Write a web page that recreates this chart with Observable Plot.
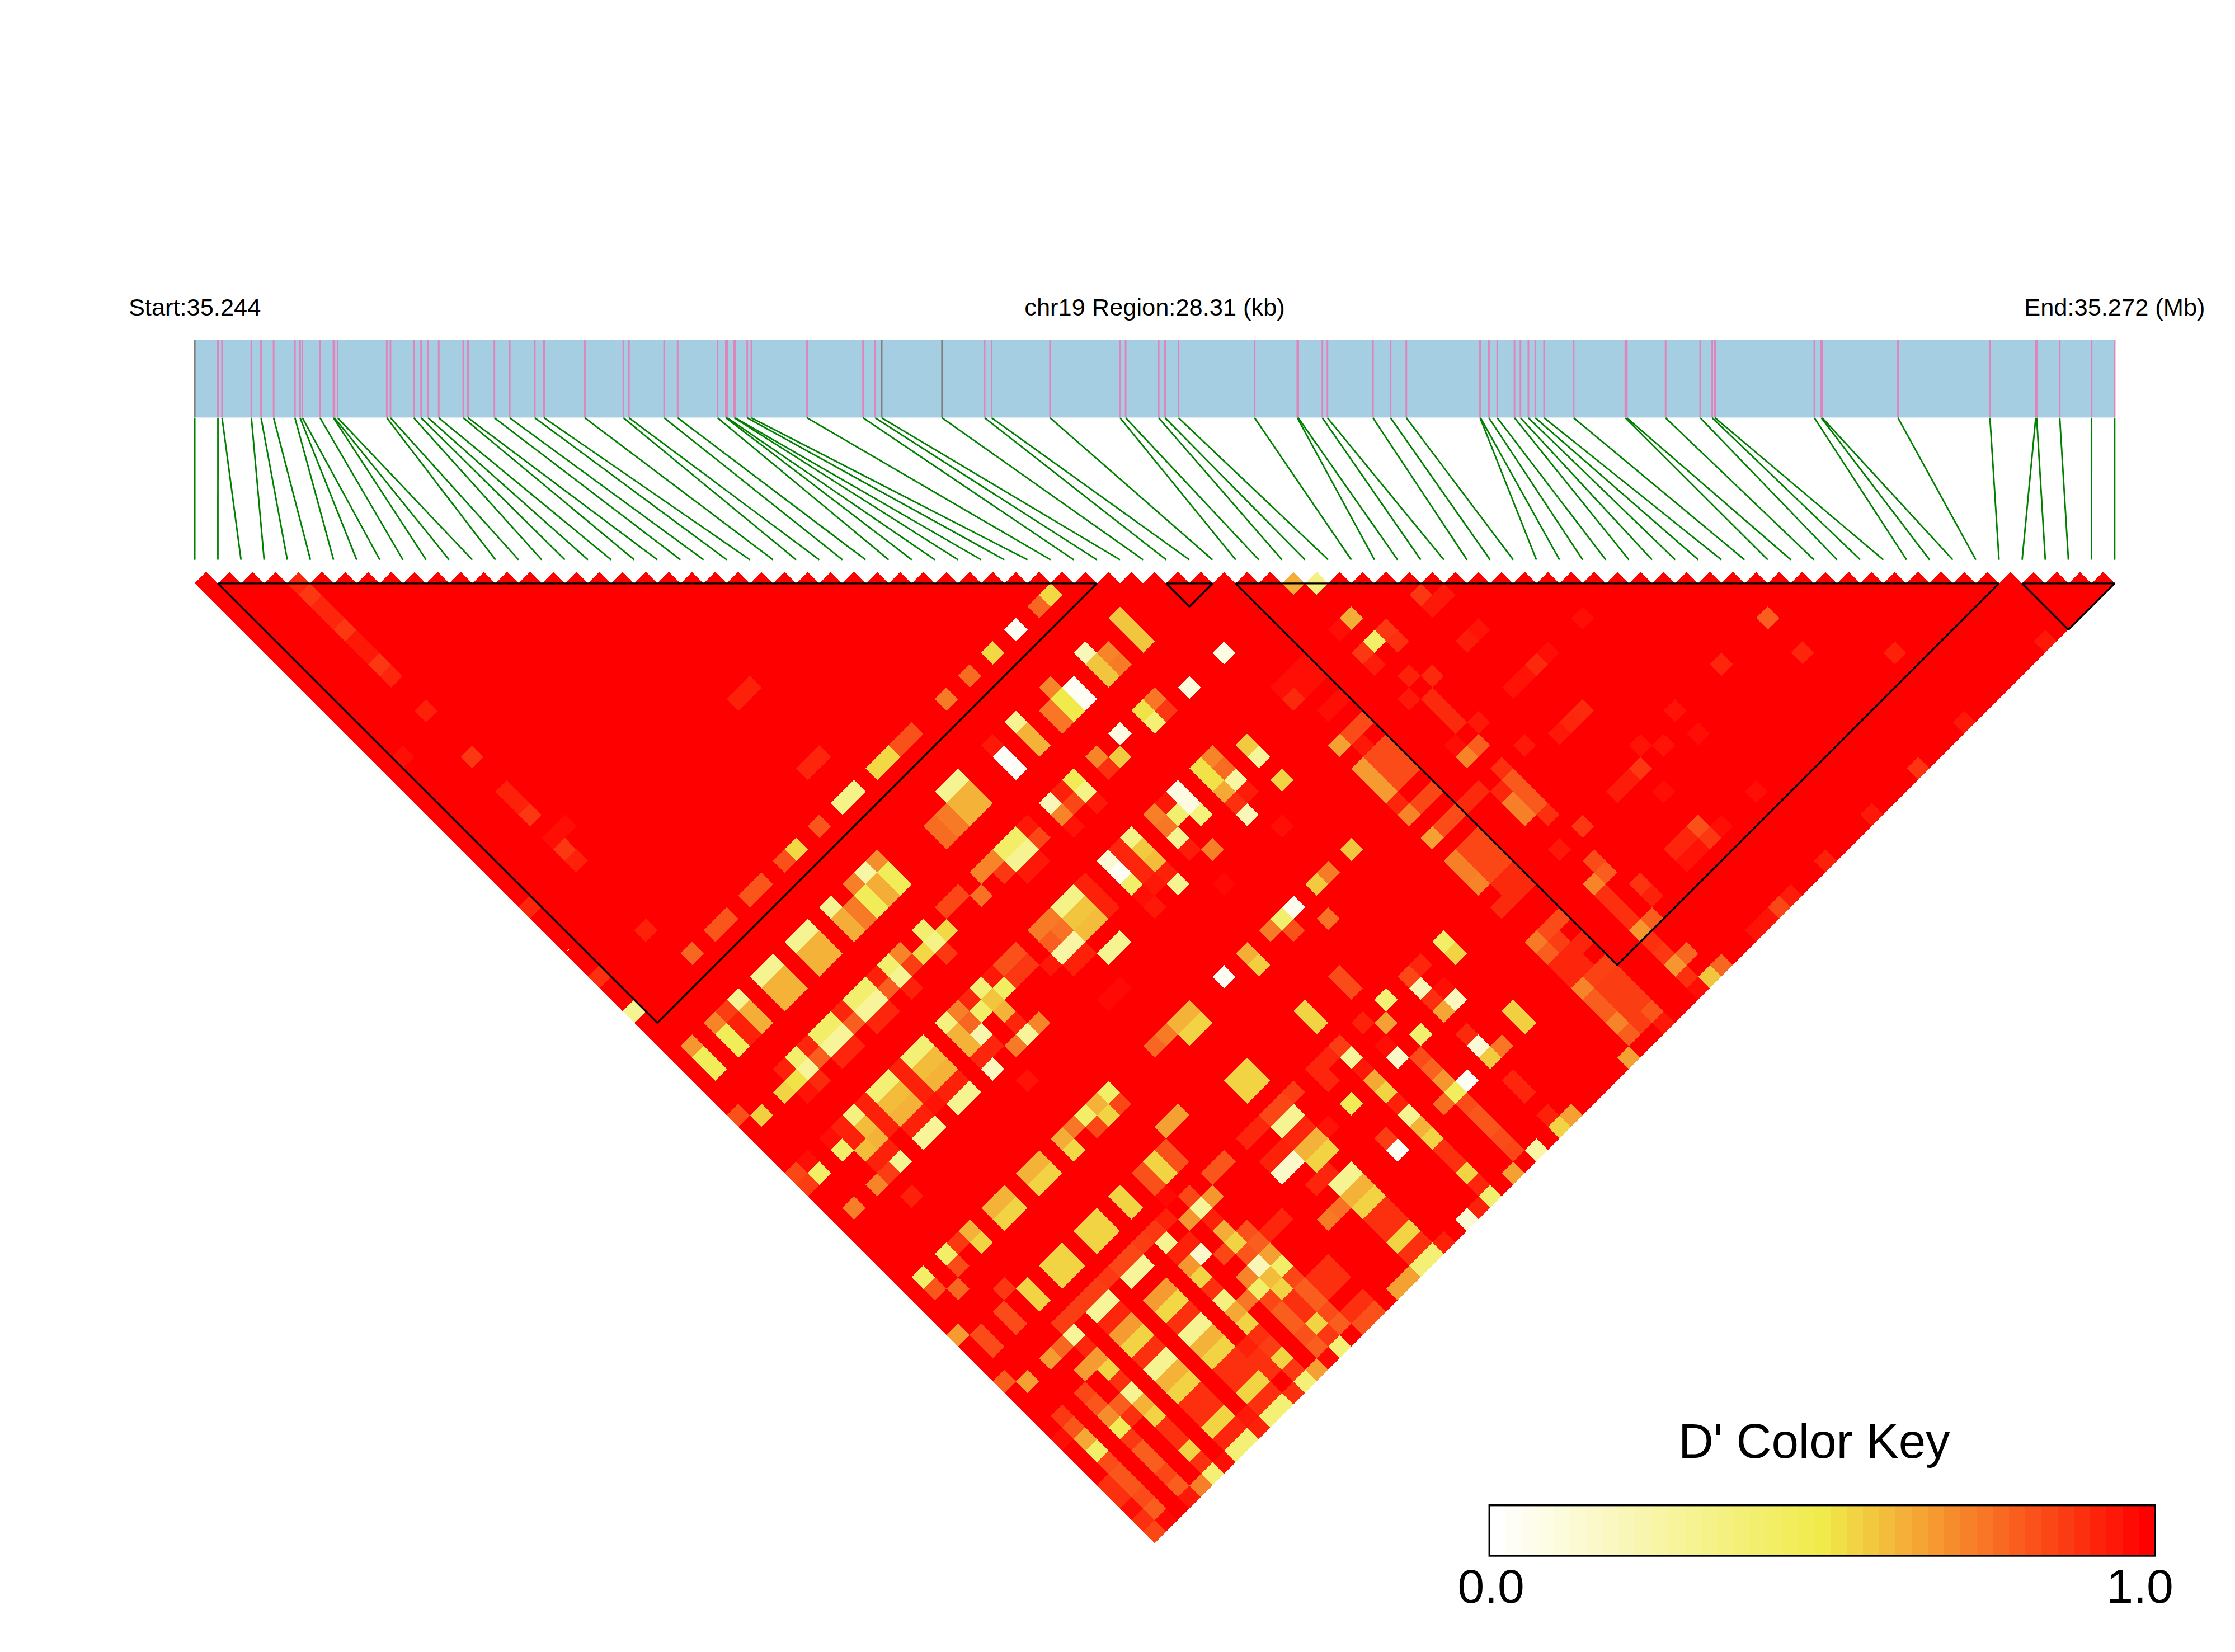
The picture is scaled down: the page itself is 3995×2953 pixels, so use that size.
<!DOCTYPE html>
<html>
<head>
<meta charset="utf-8">
<script src="https://cdn.jsdelivr.net/npm/d3@7"></script>
<script src="https://cdn.jsdelivr.net/npm/@observablehq/plot@0.6"></script>
<style>
html,body{margin:0;padding:0;background:#fff}
#chart{position:relative;width:3995px;height:2953px;background:#fff}
#chart svg{position:absolute;left:0;top:0;background:transparent;max-width:none}
</style>
</head>
<body>
<div id="chart"></div>
<script>
// SNP positions in kb from the region start
const snpKb = [0,0.342,0.403,0.835,0.978,1.163,1.477,1.553,1.587,1.847,2.045,2.059,2.107,2.832,2.886,3.229,3.338,3.441,3.598,3.960,4.029,4.418,4.644,5.014,5.151,5.752,6.321,6.402,6.922,7.121,7.709,7.832,7.853,7.955,7.969,8.147,8.208,9.029,9.855,10.033,10.129,11.019,11.647,11.750,12.612,13.645,13.727,14.213,14.308,14.506,15.628,16.258,16.271,16.627,16.702,17.373,17.633,17.865,18.953,18.959,19.083,19.206,19.460,19.548,19.665,19.767,19.897,20.332,21.095,21.116,21.688,22.199,22.376,22.417,23.882,23.984,23.998,25.115,26.471,27.146,27.160,27.500,27.970,28.310];
const greySnps = [0, 40, 41];
const regionKb = 28.31;
const headerLabels = ["Start:35.244", "chr19 Region:28.31 (kb)", "End:35.272 (Mb)"];
// LD blocks as [first SNP, last SNP]
const blocks = [[1,39],[42,44],[45,78],[79,83]];
// Pairs with D' below 1, as [first + second SNP index, second - first SNP index, D']; every other pair is 1
const weakPairs = [
[9,1,.92],[10,2,.88],[11,3,.92],[12,4,.92],[13,5,.88],[14,6,.95],[15,7,.95],[16,8,.88],[17,9,.92],[20,12,.93],[18,16,.97],[24,16,.88],[27,19,.93],[28,20,.93],[29,21,.88],[32,22,.97],[31,23,.97],[32,24,.88],[33,25,.93],[29,29,.92],[35,35,.9],[38,38,.3],[39,31,.93],
[74,2,.54],[73,3,.78],[71,5,.03],[69,7,.54],[67,9,.77],[65,11,.74],[48,10,.93],[47,11,.93],[62,14,.83],[61,15,.83],[60,16,.54],[59,17,.54],[54,16,.92],[53,17,.92],[57,19,.33],[56,20,.33],[54,22,.82],[52,24,.54],[51,25,.83],[49,27,.82],[48,28,.82],[46,30,.82],[45,31,.82],[43,33,.78],
[66,18,.3],[65,19,.3],[67,19,.62],[68,20,.62],[66,20,.62],[67,21,.62],[65,21,.74],[66,22,.74],[64,22,.77],[65,23,.77],[71,13,.3],[72,14,.62],[73,15,.62],[69,15,.95],[70,16,.02],[71,17,.02],
[77,7,.2],[79,7,.72],[78,8,.58],[79,9,.58],[74,10,.72],[76,10,.03],[77,11,.03],[75,11,.5],[76,12,.5],[74,12,.75],[75,13,.75],[80,14,.08],[78,16,.72],[80,16,.57],[79,17,.9],
[76,18,.47],[77,19,.33],[75,19,.93],[76,20,.85],[78,20,.95],[74,20,.2],[75,21,.72],[76,22,.96],[72,22,.95],[73,23,.85],[71,23,.42],[70,24,.42],[72,24,.3],[71,25,.3],[69,25,.72],[68,26,.72],[70,26,.88],[73,25,.95],[72,26,.95],[66,28,.85],[65,29,.85],[68,28,.76],
[59,25,.7],[58,26,.25],[60,26,.46],[61,27,.46],[59,27,.63],[60,28,.63],[57,27,.73],[58,28,.46],[59,29,.46],[57,29,.74],[58,30,.74],[55,29,.3],[56,30,.63],[57,31,.63],[53,31,.3],[52,32,.3],[54,32,.62],[55,33,.62],[53,33,.62],[54,34,.62],
[76,28,.33],[75,29,.33],[77,29,.58],[76,30,.58],[78,30,.6],[77,31,.6],[77,27,.93],[78,28,.93],[79,29,.93],[74,30,.74],[73,31,.74],[75,31,.76],[74,32,.8],[76,32,.25],[75,33,.25],[79,25,.12],[80,26,.03],[71,33,.8],[63,31,.4],[65,31,.54],[64,32,.33],[63,33,.54],[61,33,.72],[65,33,.88],
[95,1,.63],[97,1,.35],[106,2,.88],[108,2,.95],[107,3,.95],[120,4,.97],[100,4,.63],[99,5,.97],[103,5,.88],[104,6,.9],[102,6,.42],[101,7,.88],[102,8,.94],[111,5,.96],[110,6,.94],[117,7,.97],[116,8,.91],[115,9,.96],[114,10,.96],[105,9,.93],[107,9,.91],[105,11,.95],[107,11,.91],[108,12,.91],[109,13,.91],[111,13,.95],[109,15,.97],[111,15,.8],[110,16,.72],[115,15,.95],
[96,8,.97],[95,9,.97],[94,10,.97],[97,9,.97],[96,10,.97],[95,11,.91],[99,11,.97],[98,12,.97],[120,12,.91],[119,13,.92],[118,14,.95],[128,12,.96],[125,15,.96],[127,15,.96],[125,17,.88],[124,18,.94],[123,19,.94],[127,19,.97],
[83,11,.75],[84,12,.88],[82,12,.52],[83,13,.38],[86,10,.1],[89,7,.08],[80,4,.58],[81,5,.58],[82,6,.58],[80,8,.74],
[101,13,.84],[100,14,.84],[99,15,.66],[101,15,.95],[103,15,.84],[104,16,.84],[105,17,.84],[102,16,.84],[103,17,.84],[104,18,.84],[101,17,.67],[102,18,.67],[103,19,.67],[104,20,.92],[105,21,.72],[107,19,.85],[106,20,.85],[109,21,.84],[108,22,.84],[107,23,.66],[111,19,.91],[110,20,.91],[113,17,.9],[113,19,.92],[114,18,.81],[115,19,.81],[116,20,.81],[114,20,.73],[115,21,.73],[117,21,.9],[120,22,.88],
[111,23,.85],[112,24,.85],[113,25,.85],[110,24,.85],[111,25,.85],[112,26,.85],[109,25,.73],[110,26,.73],[111,27,.72],[114,26,.91],[113,27,.91],[115,27,.91],[114,28,.91],[113,29,.91],[118,24,.95],[121,25,.84],[122,26,.8],[121,27,.72],[122,28,.9],[123,29,.9],[124,30,.9],[125,27,.89],[126,28,.93],[126,30,.8],[125,31,.68],[126,32,.9],[128,24,.92],[118,30,.84],[117,31,.84],
[88,16,.72],[89,17,.77],[87,17,.52],[88,18,.52],[90,18,.25],[89,19,.64],[91,19,.94],[90,20,.9],[91,21,.2],[91,15,.57],[92,16,.28],[94,18,.55],[85,19,.08],[86,20,.08],[84,20,.95],[83,21,.73],[85,21,.4],[87,21,.36],[84,22,.75],[85,23,.3],[86,24,.94],[88,24,.73],[94,22,.97],[81,23,.33],[82,24,.57],[83,25,.6],[80,24,.92],[81,25,.92],[82,26,.92],[84,26,.93],[81,27,.42],[85,27,.3],[83,27,.95],[82,28,.97],[83,29,.95],[89,27,.98],[100,24,.58],[98,26,.74],[97,27,.57],[98,30,.76],[95,29,.05],[94,30,.4],[93,31,.74],[95,31,.83],[108,32,.42],[109,33,.55],[91,33,.63],[80,32,.3],
[136,4,.8],[139,7,.92],[132,8,.92],[147,7,.93],[130,14,.97],[135,19,.97],[130,22,.83],[132,22,.97],[131,23,.88],[129,23,.92],[128,24,.92],[130,24,.96],[129,25,.96],[160,6,.95],[153,13,.95],[149,17,.89],[145,21,.95],[141,25,.93],[138,28,.94],[137,29,.85],[136,30,.96],[135,31,.96],[132,34,.78],[131,35,.58],[130,36,.97],[129,35,.9],[128,34,.68],[129,33,.78],[127,33,.88],[126,38,.82],[127,39,.95],
[50,34,.3],[49,35,.3],[51,35,.62],[52,36,.62],[50,36,.62],[51,37,.62],[47,37,.3],[48,38,.63],[49,39,.63],[46,38,.87],[45,39,.72],[47,39,.93],[48,40,.93],[46,40,.46],[47,41,.46],[43,41,.68],[44,42,.46],[45,43,.46],
[60,34,.4],[62,34,.87],[61,35,.3],[58,36,.4],[57,37,.4],[59,37,.28],[58,38,.28],[60,36,.8],[59,35,.93],[62,36,.93],[60,38,.92],[59,39,.92],[57,39,.8],[56,38,.92],[55,39,.42],[54,40,.42],[56,40,.28],[55,41,.28],[53,41,.92],[54,42,.8],[52,42,.4],[53,43,.28],[51,43,.93],[54,44,.91],[52,44,.52],[51,45,.55],[53,45,.96],[57,41,.92],[56,42,.92],[47,47,.83],[49,47,.56],
[63,41,.38],[62,42,.38],[64,42,.6],[63,43,.6],[65,43,.62],[64,44,.62],[61,43,.93],[62,44,.93],[63,45,.93],[64,46,.96],[66,44,.93],[65,45,.93],[67,45,.3],[66,46,.3],
[66,38,.73],[65,39,.35],[67,39,.78],[66,40,.62],[68,40,.22],[67,41,.62],[68,38,.42],[70,36,.43],[68,36,.38],[69,37,.58],[70,38,.62],[71,39,.92],[73,39,.72],[72,40,.28],[71,41,.74],[69,41,.92],[68,42,.92],[69,43,.18],[67,37,.92],[70,34,.83],[71,33,.83],[72,34,.88],[71,35,.88],[69,35,.95],[74,34,.95],[76,34,.93],[77,33,.93],[79,33,.3],[80,36,.98],[79,37,.98],
[60,44,.38],[59,45,.38],[61,45,.6],[60,46,.6],[62,46,.62],[61,47,.62],[58,46,.93],[59,47,.93],[60,48,.93],[63,47,.93],[62,48,.93],[64,48,.28],[63,49,.28],[57,47,.35],[58,48,.6],[59,49,.62],[58,50,.6],[56,50,.42],[56,48,.93],[55,49,.97],[57,49,.93],[59,51,.93],[60,50,.93],[61,51,.3],[60,52,.87],[59,53,.72],[62,54,.93],[57,55,.73],[53,51,.97],[52,52,.85],[54,52,.42],[53,53,.87],[72,44,.96],
[79,45,.42],[78,46,.62],[80,46,.85],[77,47,.42],[79,47,.55],[76,48,.75],[78,48,.85],[75,49,.63],[76,50,.54],[73,51,.62],[72,52,.62],[74,52,.55],[73,53,.55],[70,54,.62],[69,55,.62],[71,55,.55],[70,56,.55],[80,54,.55],[81,55,.55],[78,56,.55],[79,57,.55],[77,57,.55],[78,58,.55],[75,59,.55],[76,60,.55],[74,60,.55],[75,61,.55],
[83,41,.78],[84,40,.74],[86,38,.62],[85,39,.62],[87,39,.55],[86,40,.55],[84,48,.66],[83,52,.83],[82,52,.83],[83,53,.83],[83,51,.55],[84,52,.55],[84,50,.85],[84,56,.93],[83,57,.88],[84,58,.3],[82,58,.87],[81,59,.85],[80,60,.85],[82,60,.28],[81,61,.28],[79,61,.88],[78,62,.87],[67,57,.62],[68,58,.55],[66,58,.88],[65,59,.42],[66,60,.84],[63,61,.42],[64,62,.82],[66,62,.78],
[70,62,.88],[72,62,.55],[73,63,.55],[70,64,.84],[71,65,.84],[66,66,.67],[68,66,.84],[69,67,.84],[77,63,.87],[76,64,.87],[75,65,.87],[79,63,.28],[78,64,.28],[76,66,.28],[75,67,.78],[74,68,.67],[77,67,.92],[80,64,.92],[79,65,.92],
[84,62,.67],[83,63,.67],[85,63,.54],[84,64,.54],[81,65,.67],[80,66,.67],[82,66,.55],[81,67,.55],[86,64,.9],[85,65,.9],[83,67,.9],[82,68,.9],[84,68,.3],[83,69,.3],[85,69,.62],[84,70,.62],[86,70,.55],[85,71,.55],[87,65,.3],[86,66,.3],[88,66,.62],[87,67,.62],[89,67,.55],[88,68,.55],[90,68,.9],[91,69,.9],[89,69,.9],[90,70,.9],[92,70,.55],[91,71,.55],[93,71,.9],[92,72,.9],[94,72,.38],[93,73,.38],[92,74,.93],[91,73,.95],[91,75,.38],[90,76,.38],[89,77,.97],[88,78,.38],[87,79,.73],[89,73,.55],[88,74,.55],[87,71,.9],[88,72,.9],[86,72,.9],[87,73,.9],[90,74,.92],[89,75,.92],
[78,68,.67],[77,69,.67],[79,69,.55],[80,70,.9],[81,71,.3],[82,72,.62],[83,73,.55],[77,71,.85],[78,72,.82],[79,73,.7],[80,74,.47],[81,73,.9],[80,72,.8],[84,74,.9],[85,75,.9],[86,76,.55],[87,77,.9],[82,76,.8],[83,77,.8],[84,78,.85],[85,79,.8],[81,75,.88],[75,73,.88],[76,74,.82],[77,75,.64],[78,76,.42],[79,77,.84],[80,78,.82],[81,79,.82],[79,79,.9],[80,80,.9],[82,80,.84],[83,81,.8],[82,82,.9],[84,82,.98],[83,83,.85],[81,81,.97],[86,80,.95],[75,75,.97],[70,70,.8],[72,70,.66],
[84,54,.98],[85,59,.93],[87,59,.14],[86,58,.93],[86,60,.68],[87,61,.55],[88,62,.9],[89,63,.35],[90,64,.64],[91,65,.55],[89,59,.85],[89,57,.63],[90,58,.55],[91,59,.82],[92,58,.8],[93,59,.66],[92,60,.2],[94,60,.42],[91,61,.72],[92,62,.42],[93,61,.6],[94,62,.55],[95,61,.85],[93,63,.85],[91,63,.75],[91,67,.93],[92,68,.9],[93,69,.9],[93,67,.87],[94,68,.55],
[91,57,.83],[94,56,.92],[93,57,.92],[86,54,.85],[88,54,.68],[87,55,.28],[86,56,.68],[88,56,.93],[85,47,.66],[84,48,.66],[84,50,.83],[85,51,.83],[83,51,.55],[84,52,.55],[89,51,.82],[88,52,.82],[92,34,.56],[89,35,.03],[99,35,.84],[100,36,.84],[103,37,.38],[103,39,.66],[101,39,.93],[106,40,.4],[106,34,.92],[105,35,.85],[106,36,.2],[108,36,.97],[107,37,.9],[109,37,.18],[108,38,.65],
[91,43,.55],[92,44,.55],[90,44,.55],[91,45,.55],[96,38,.55],[97,39,.55],
[110,40,.91],[111,41,.12],[113,41,.75],[112,42,.57],[103,41,.97],[104,42,.15],[106,42,.84],[107,43,.79],[108,44,.68],[110,44,.03],[109,45,.45],[108,46,.77],[110,46,.84],[111,47,.82],[112,48,.82],[113,49,.84],[114,50,.85],[114,44,.92],[115,45,.92],[114,52,.66],[116,50,.25],[117,47,.93],[119,47,.66],[118,48,.55],[114,38,.56],[115,39,.56],[124,42,.66],
[110,56,.12],[111,55,.93],[112,54,.4],[110,52,.55],[111,53,.92],[108,50,.9],[109,51,.9],[107,49,.55],[106,48,.62],[105,47,.3],[104,46,.93],[103,49,.87],[104,50,.03],
[99,41,.87],[98,42,.92],[97,43,.92],[98,44,.92],[100,42,.28],[101,43,.95],[102,44,.64],[103,45,.55],[100,46,.47],[95,45,.87],[94,46,.85],[93,47,.85],[95,47,.3],[94,48,.3],[92,48,.92],[91,49,.92],[96,48,.92],[95,49,.92],[98,48,.96],[97,49,.62],[96,50,.62],[98,50,.55],[97,51,.55],[94,50,.93],[93,51,.93],[95,51,.15],[94,52,.15],[98,52,.92],[97,53,.92],
[100,52,.3],[99,53,.3],[101,53,.62],[100,54,.62],[102,54,.55],[101,55,.55],[103,55,.9],[104,56,.9],[102,56,.9],[103,57,.9],[105,57,.55],[104,58,.55],[106,58,.9],[105,59,.9],[107,59,.38],[106,60,.38],[108,58,.93],[99,55,.76],[98,56,.74],
[116,32,.74],[117,33,.8],[117,31,.84],[118,32,.87],[118,34,.92],[119,35,.92],[119,33,.92],[120,32,.92],[120,34,.92],[121,35,.86],[122,34,.86],[120,36,.72],[121,37,.8],[122,38,.8],[123,35,.87],[124,36,.87],[122,36,.87],[123,37,.87],[124,38,.87],[125,37,.87],[123,39,.72],[124,40,.8],[125,39,.87],
[105,61,.66],[104,62,.66],[98,60,.9],[99,61,.9],[97,61,.9],[98,62,.9],[96,62,.8],[97,63,.8],[95,63,.9],[96,64,.9],[94,64,.8],[95,65,.8],[97,65,.55],[98,64,.84],[99,65,.8],[96,66,.83],[97,67,.8],[98,66,.88],[99,67,.38],[98,68,.98],[97,69,.66],[96,70,.38],[95,69,.88],[95,71,.9],[101,63,.9],[100,64,.9],[102,64,.83],[101,65,.83],
[92,66,.9]
];
const keySteps = 41;
const keyTitle = "D' Color Key";
const keyLabels = ["0.0", "1.0"];
const keyLabelAt = [0.002, 0.977];

const font = "Liberation Sans, Arial, sans-serif";
const page = {width: 3995, height: 2953, marginTop: 0, marginRight: 0, marginBottom: 0, marginLeft: 0};
const dPrimeColor = {type: "linear", domain: [0, 0.5, 1], range: ["#ffffff", "#f0eb4a", "#ff0000"], interpolate: "rgb"};
const plotLeft = 347.6, plotRight = 3779.4;

// --- every SNP pair: position from the two indices, D' = 1 unless listed
const nSnps = snpKb.length;
const weak = new Map(weakPairs.filter(([s, g]) => (s - g) % 2 === 0).map(([s, g, d]) => [`${s}_${g}`, d]));
const cells = [];
for (let i = 0; i < nSnps; i++) for (let j = i + 1; j < nSnps; j++) {
  const key = `${i + j}_${j - i}`;
  cells.push({mid: (i + j) / 2, gap: j - i, d: weak.has(key) ? weak.get(key) : 1});
}
cells.sort((a, b) => b.d - a.d);

const cellDiamond = {draw(ctx, size) {
  const h = Math.sqrt(size / Math.PI);
  ctx.moveTo(0, -h); ctx.lineTo(h, 0); ctx.lineTo(0, h); ctx.lineTo(-h, 0); ctx.closePath();
}};
const blockOutline = blocks.flatMap(([s, e], b) => [
  {b, x: s, y: 1}, {b, x: e, y: 1}, {b, x: (s + e) / 2, y: 1 + e - s}
]);
// solid layer under the cells, through the centres of the corner pairs, so no seam shows white
const underlay = [
  {x: 0.5, y: 1}, {x: nSnps - 1.5, y: 1}, {x: (nSnps - 1) / 2, y: nSnps - 1}
];

const heat = Plot.plot({
  ...page,
  x: {domain: [0, nSnps - 1], range: [plotLeft, plotRight], axis: null},
  y: {domain: [1, nSnps - 1], range: [1042.4, 2737.4], axis: null},
  color: dPrimeColor,
  marks: [
    Plot.line(underlay, {x: "x", y: "y", curve: "linear-closed", fill: "#ff0000", stroke: "none"}),
    Plot.dot(cells, {x: "mid", y: "gap", r: 20.675, symbol: cellDiamond, fill: "d", shapeRendering: "crispEdges"}),
    Plot.line(blockOutline, {x: "x", y: "y", z: "b", curve: "linear-closed", stroke: "#000", strokeWidth: 3.4, strokeLinejoin: "miter"})
  ]
});

// --- gene track, links from true position to evenly spaced SNP slots
const snps = snpKb.map((kb, i) => ({kb, slot: i / (nSnps - 1) * regionKb, grey: greySnps.includes(i)}));
const track = Plot.plot({
  ...page,
  x: {domain: [0, regionKb], range: [plotLeft, plotRight], axis: null},
  y: {domain: [0, 1], range: [607, 746.4], axis: null},
  marks: [
    Plot.rect([0], {x1: 0, x2: regionKb, y1: 0, y2: 1, fill: "#a6cee3"}),
    Plot.ruleX(snps.filter(d => !d.grey), {x: "kb", y1: 0, y2: 1, stroke: "#df85bc", strokeWidth: 3}),
    Plot.ruleX(snps.filter(d => d.grey), {x: "kb", y1: 0, y2: 1, stroke: "#7f7f7f", strokeWidth: 3}),
    Plot.link(snps, {x1: "kb", y1: 1, x2: "slot", y2: 2.82, stroke: "#008000", strokeWidth: 2.8}),
    Plot.text(headerLabels, {
      x: (d, i) => i * regionKb / 2, y: -0.312, text: d => d,
      fontFamily: font, fontSize: 43.4, fill: "#000", textAnchor: "middle", lineAnchor: "bottom"
    })
  ]
});

// --- colour key
const keyCells = d3.range(keySteps).map(i => ({x1: i / keySteps, x2: (i + 1) / keySteps, d: i / (keySteps - 1)}));
const key = Plot.plot({
  ...page,
  x: {domain: [0, 1], range: [2662.3, 3852], axis: null},
  y: {domain: [0, 1], range: [2690.7, 2781], axis: null},
  color: dPrimeColor,
  marks: [
    Plot.rect(keyCells, {x1: "x1", x2: "x2", y1: 0, y2: 1, fill: "d", shapeRendering: "crispEdges"}),
    Plot.rect([0], {x1: 0, x2: 1, y1: 0, y2: 1, fill: "none", stroke: "#000", strokeWidth: 3.4}),
    Plot.text([keyTitle], {x: 0.4875, y: -0.948, text: d => d, fontFamily: font, fontSize: 87, fill: "#000", textAnchor: "middle", lineAnchor: "bottom"}),
    Plot.text(keyLabels, {x: (d, i) => keyLabelAt[i], y: 1.93, text: d => d, fontFamily: font, fontSize: 86, fill: "#000", textAnchor: "middle", lineAnchor: "bottom"})
  ]
});

document.getElementById("chart").append(track, heat, key);
</script>
</body>
</html>
